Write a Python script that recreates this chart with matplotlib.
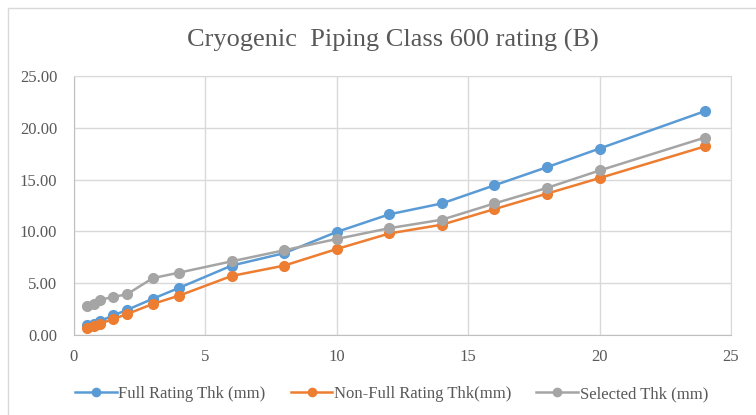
import numpy as np
import matplotlib.pyplot as plt
from matplotlib.patches import Rectangle
from matplotlib.ticker import FormatStrFormatter

plt.rcParams['font.family'] = ['Liberation Serif', 'DejaVu Serif']

sizes = [0.5, 0.75, 1, 1.5, 2, 3, 4, 6, 8, 10, 12, 14, 16, 18, 20, 24]
full_thk = [0.95, 1.1, 1.35, 1.9, 2.4, 3.5, 4.55, 6.7, 7.9, 9.95, 11.65, 12.7, 14.45, 16.2, 18.0, 21.6]
nonfull_thk = [0.7, 0.85, 1.1, 1.55, 2.0, 3.0, 3.8, 5.7, 6.7, 8.3, 9.8, 10.65, 12.15, 13.65, 15.15, 18.2]
selected_thk = [2.77, 2.95, 3.38, 3.7, 3.91, 5.49, 6.02, 7.11, 8.18, 9.27, 10.31, 11.13, 12.7, 14.2, 15.88, 19.05]

fig = plt.figure(figsize=(7.56, 4.15), dpi=100)
ax = fig.add_axes([74 / 756, 80 / 415, 657 / 756, 259 / 415])

txt = '#595959'
grid = '#d9d9d9'

ax.plot(sizes, full_thk, '-o', color='#5B9BD5', lw=1.8, ms=7, label='Full Rating Thk (mm)')
ax.plot(sizes, nonfull_thk, '-o', color='#ED7D31', lw=1.8, ms=7, label='Non-Full Rating Thk(mm)')
ax.plot(sizes, selected_thk, '-o', color='#A5A5A5', lw=1.8, ms=7, label='Selected Thk (mm)')

ax.set_xlim(0, 25)
ax.set_ylim(0, 25)
ax.set_xticks(np.arange(0, 26, 5))
ax.set_yticks(np.arange(0, 26, 5))
ax.yaxis.set_major_formatter(FormatStrFormatter('%.2f'))
ax.grid(True, color=grid, lw=1)
ax.set_axisbelow(True)
ax.tick_params(length=0, labelsize=12, labelcolor=txt)
ax.tick_params(axis='x', pad=10)
ax.tick_params(axis='y', pad=12)
for s in ['top', 'right']:
    ax.spines[s].set_color(grid)
for s in ['left', 'bottom']:
    ax.spines[s].set_color('#bfbfbf')

fig.text(0.52, 0.903, 'Cryogenic  Piping Class 600 rating (B)', ha='center', va='center',
         fontsize=19, color=txt)

fig.legend(loc='center', bbox_to_anchor=(0.518, 21 / 415), ncol=3, frameon=False,
           fontsize=12, labelcolor=txt, handlelength=2.5, handletextpad=0.1, columnspacing=1.5,
           markerscale=0.85)

fig.patches.append(Rectangle((8 / 756, -0.5), 2, 1.5 - 8 / 415, transform=fig.transFigure,
                             fill=False, edgecolor=grid, lw=1))

plt.savefig('out.png')
